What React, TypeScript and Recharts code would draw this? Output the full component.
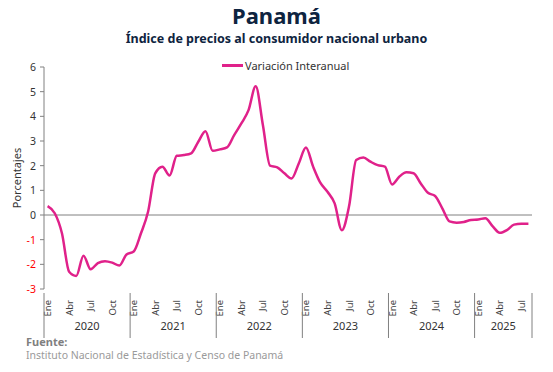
import { LineChart, Line, XAxis, YAxis, ReferenceLine } from "recharts"

const years = [2020, 2021, 2022, 2023, 2024, 2025]
const monthNames = ["Ene", "Feb", "Mar", "Abr", "May", "Jun", "Jul", "Ago", "Sep", "Oct", "Nov", "Dic"]
const monthsIn2025 = 8

const v2020 = [0.36, 0.07, -0.74, -2.3, -2.47, -1.65, -2.2, -1.95, -1.87, -1.93, -2.05, -1.6]
const v2021 = [-1.48, -0.75, 0.13, 1.69, 1.96, 1.6, 2.4, 2.43, 2.5, 2.97, 3.4, 2.6]
const v2022 = [2.66, 2.74, 3.24, 3.71, 4.25, 5.22, 3.65, 2.0, 1.93, 1.69, 1.48, 2.09]
const v2023 = [2.74, 1.96, 1.31, 0.94, 0.47, -0.62, 0.34, 2.23, 2.33, 2.16, 2.02, 1.96]
const v2024 = [1.24, 1.55, 1.73, 1.69, 1.28, 0.9, 0.77, 0.27, -0.26, -0.31, -0.28, -0.2]
const v2025 = [-0.18, -0.13, -0.45, -0.72, -0.61, -0.39, -0.35, -0.35]

const yTicks = [-3, -2, -1, 0, 1, 2, 3, 4, 5, 6]

const values = [...v2020, ...v2021, ...v2022, ...v2023, ...v2024, ...v2025]

const data = values.map((v, i) => ({
  key: `${years[Math.floor(i / 12)]}-${i % 12}`,
  year: years[Math.floor(i / 12)],
  month: i % 12,
  value: v,
}))

const PLOT_LEFT = 44
const PLOT_RIGHT = 532
const BAND = (PLOT_RIGHT - PLOT_LEFT) / data.length
const FONT = "'Noto Sans', sans-serif"

function MonthTick(props: any) {
  const { x, y, payload } = props
  const d = data[payload.index]
  if (!d) return null
  const parts = []
  if (d.month % 3 === 0) {
    parts.push(
      <text
        key="m"
        x={x}
        y={y + 3}
        transform={`rotate(-90, ${x}, ${y + 3})`}
        textAnchor="end"
        dominantBaseline="central"
        fontSize={9.5}
        fill="#404040"
        fontFamily={FONT}
      >
        {monthNames[d.month]}
      </text>
    )
  }
  if (d.month === 0) {
    const left = x - BAND / 2
    const n = d.year === 2025 ? monthsIn2025 : 12
    parts.push(<line key="s" x1={left} x2={left} y1={y - 4} y2={y + 41} stroke="#808080" strokeWidth={1} />)
    parts.push(
      <text key="y" x={left + (n * BAND) / 2} y={y + 33} textAnchor="middle" fontSize={11} fill="#333" fontFamily={FONT}>
        {d.year}
      </text>
    )
    if (d.year === 2025) {
      const right = left + n * BAND
      parts.push(<line key="e" x1={right} x2={right} y1={y - 4} y2={y + 41} stroke="#808080" strokeWidth={1} />)
    }
  }
  return <g>{parts}</g>
}

function ValueTick(props: any) {
  const { x, y, payload } = props
  return (
    <text
      x={x - 2}
      y={y}
      textAnchor="end"
      dominantBaseline="central"
      fontSize={10.5}
      fill={payload.value < 0 ? "#ff0000" : "#333"}
      fontFamily={FONT}
    >
      {payload.value}
    </text>
  )
}

export default function App() {
  return (
    <div style={{ position: "absolute", left: 0, top: 0, width: 553, height: 372, background: "#fff", fontFamily: FONT }}>
      <div style={{ position: "absolute", left: 0, width: 553, top: 0, textAlign: "center", fontSize: 22, fontWeight: 700, color: "#0e2440" }}>
        Panamá
      </div>
      <div style={{ position: "absolute", left: 0, width: 553, top: 30, textAlign: "center", fontSize: 12.5, fontWeight: 700, color: "#0e2440" }}>
        Índice de precios al consumidor nacional urbano
      </div>
      <div style={{ position: "absolute", left: 222, top: 58, display: "flex", alignItems: "center", fontSize: 11, color: "#333" }}>
        <span style={{ display: "inline-block", width: 21, height: 3, background: "#e0218a", marginRight: 2 }} />
        Variación Interanual
      </div>
      <div style={{ position: "absolute" }}>
        <LineChart width={553} height={372} data={data} margin={{ top: 67, right: 553 - PLOT_RIGHT, bottom: 38, left: 0 }}>
          <XAxis
            dataKey="key"
            interval={0}
            tick={<MonthTick />}
            tickLine={false}
            axisLine={false}
            padding={{ left: BAND / 2, right: BAND / 2 }}
            height={45}
          />
          <YAxis
            width={PLOT_LEFT}
            domain={[-3, 6]}
            ticks={yTicks}
            interval={0}
            tick={<ValueTick />}
            tickSize={4}
            tickLine={{ stroke: "#808080" }}
            axisLine={{ stroke: "#808080" }}
            label={{ value: "Porcentajes", angle: -90, position: "insideLeft", offset: 17, fontSize: 11, fill: "#333", style: { textAnchor: "middle" } }}
          />
          <ReferenceLine y={0} stroke="#808080" strokeWidth={1} />
          <Line
            type="monotone"
            dataKey="value"
            stroke="#e0218a"
            strokeWidth={2.5}
            dot={false}
            isAnimationActive={false}
          />
        </LineChart>
      </div>
      <div style={{ position: "absolute", left: 26, top: 335, fontSize: 11, lineHeight: "13px", fontWeight: 700, color: "#7f7f7f" }}>Fuente:</div>
      <div style={{ position: "absolute", left: 26, top: 349, fontSize: 10.5, lineHeight: "13px", color: "#9a9a9a" }}>
        Instituto Nacional de Estadística y Censo de Panamá
      </div>
    </div>
  )
}
